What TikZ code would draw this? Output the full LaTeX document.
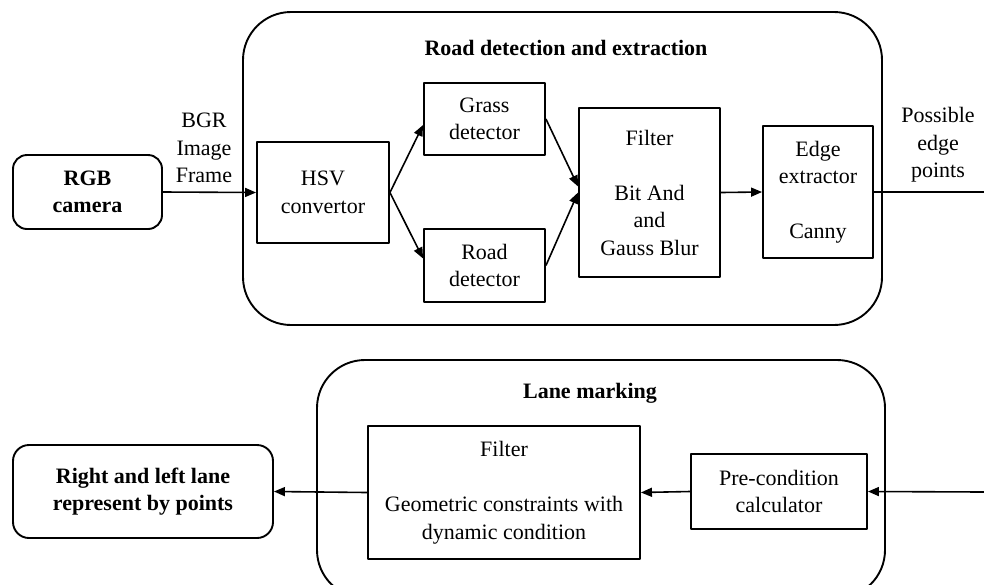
\documentclass[tikz,border=0pt]{standalone}
\usepackage{fontspec}
\setmainfont{Liberation Serif}
\usetikzlibrary{arrows.meta}

\begin{document}
\begin{tikzpicture}[x=1pt, y=-1pt, line join=round,
  font=\fontsize{22}{27.5}\selectfont,
  block/.style={draw=black, line width=1.9pt, align=center, inner sep=2pt},
  endbox/.style={block, rounded corners=14pt, font=\fontsize{22}{27.5}\selectfont\bfseries},
  panel/.style={draw=black, line width=1.9pt, rounded corners=48pt},
  title/.style={inner sep=0pt, font=\fontsize{22}{27.5}\selectfont\bfseries},
  lbl/.style={align=center, inner sep=0pt},
  conn/.style={draw=black, line width=1.6pt},
  flow/.style={conn, -{Triangle[length=11pt,width=9pt]}}]
\useasboundingbox (0,0) rectangle (984,584);
% road detection and extraction
\draw[panel] (243,12) rectangle (882,325);
\node[title] (roadtitle) at (566,48) {Road detection and extraction};
\node[endbox, minimum width=149pt, minimum height=74pt] (camera) at (87.5,192) {RGB\\camera};
\node[block, minimum width=132pt, minimum height=101pt] (hsv) at (323,192.5) {HSV\\convertor};
\node[block, minimum width=121pt, minimum height=72pt] (grass) at (484.5,119) {Grass\\detector};
\node[block, minimum width=121pt, minimum height=73pt] (road) at (484.5,265.5) {Road\\detector};
\node[block, minimum width=141pt, minimum height=169pt] (bitand) at (649.5,192.5) {Filter\\[27.5pt]Bit And\\and\\Gauss Blur};
\node[block, minimum width=110pt, minimum height=132pt] (edge) at (818,192) {Edge\\extractor\\[27.5pt]Canny};
\node[lbl] (bgr) at (204,148) {BGR\\Image\\Frame};
\node[lbl] (possible) at (938,145) {Possible\\edge\\points};
\coordinate (outR) at (984,192);
\draw[flow] (camera.east) -- (hsv.west);
\draw[flow] (hsv.east) -- ([yshift=-6pt]grass.west);
\draw[flow] (hsv.east) -- ([yshift=7pt]road.west);
\draw[flow] (grass.east) -- ([yshift=6pt]bitand.west);
\draw[flow] (road.east) -- (bitand.west);
\draw[flow] (bitand.east) -- (edge.west);
\draw[conn] (edge.east) -- (outR);
% lane marking
\draw[panel] (317,360) rectangle (885,598);
\node[title] (lanetitle) at (590,393) {Lane marking};
\node[endbox, minimum width=260pt, minimum height=93pt, rounded corners=16pt] (lanes) at (143,491.5) {Right and left lane\\represent by points};
\node[block, minimum width=272pt, minimum height=133pt] (geofilter) at (504,492.5) {Filter\\[27.5pt]Geometric constraints with\\dynamic condition};
\node[block, minimum width=176pt, minimum height=75pt] (precond) at (779,491.5) {Pre-condition\\calculator};
\coordinate (inR) at (984,492);
\draw[flow] (inR) -- (precond.east);
\draw[flow] (precond.west) -- (geofilter.east);
\draw[flow] (geofilter.west) -- (lanes.east);
\end{tikzpicture}
\end{document}
